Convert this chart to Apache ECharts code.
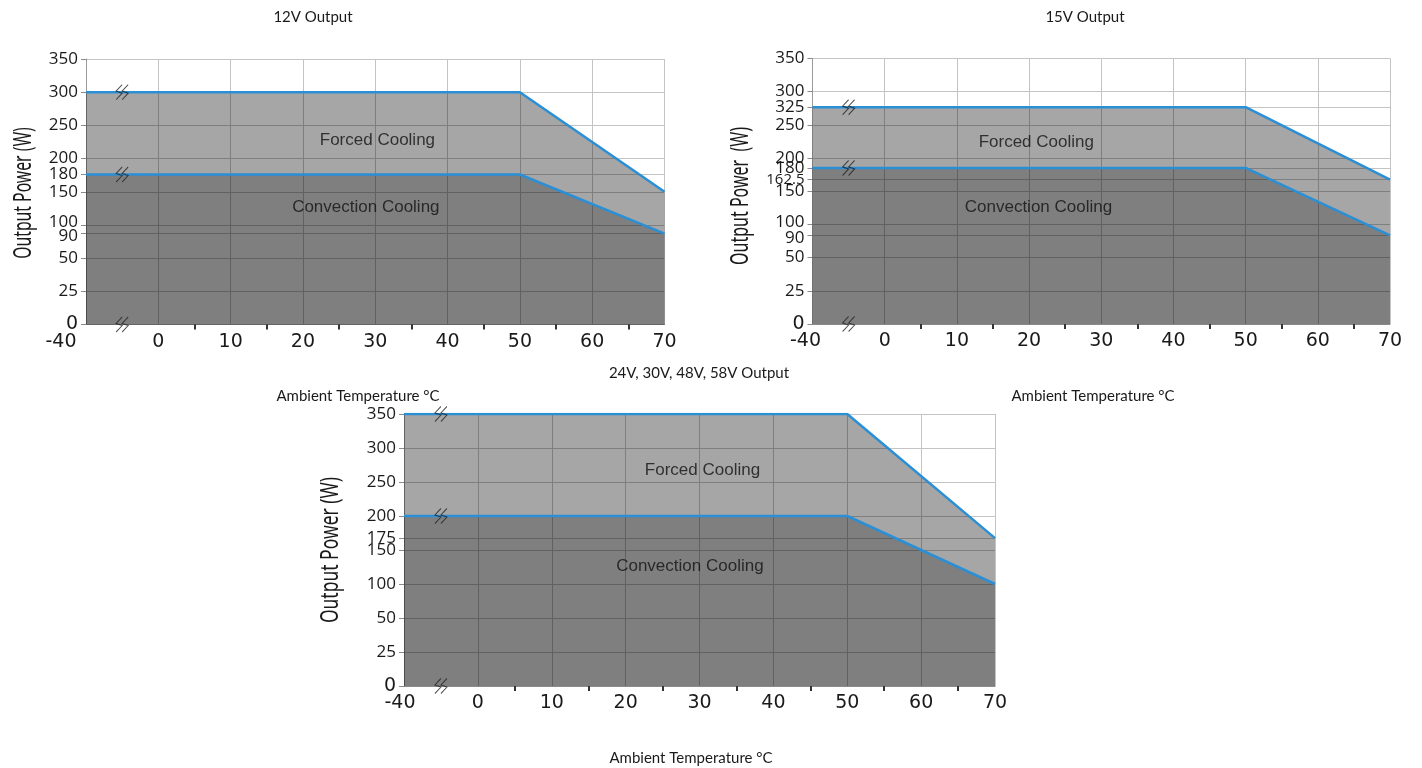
<!DOCTYPE html>
<html><head><meta charset="utf-8">
<script src="https://cdn.jsdelivr.net/npm/echarts@6/dist/echarts.min.js"></script>
<style>html,body{margin:0;padding:0;background:#fff}#c{width:1422px;height:768px}</style>
</head><body><div id="c"></div>
<script>
// ---------------- data ----------------
const temps = [-40, 50, 70];
const forced12 = [300, 300, 150];
const conv12 = [180, 180, 90];
const forced15 = [325, 325, 162.5];
const conv15 = [180, 180, 90];
const forced24 = [350, 350, 175];
const conv24 = [200, 200, 100];
const xTicks = [-40, 0, 10, 20, 30, 40, 50, 60, 70];
const xMinorTicks = [5, 15, 25, 35, 45, 55, 65];
const yTicks12 = [350, 300, 250, 200, 180, 150, 100, 90, 50, 25, 0];
const yTicks15 = [350, 300, 325, 250, 200, 180, 162.5, 150, 100, 90, 50, 25, 0];
const yTicks24 = [350, 300, 250, 200, 175, 150, 100, 50, 25, 0];
const titles = ['12V Output', '15V Output', '24V, 30V, 48V, 58V Output'];
const regionNames = ['Forced Cooling', 'Convection Cooling'];
const xName = 'Ambient Temperature °C';
const yNames = ['Output Power (W)', 'Output Power  (W)', 'Output Power (W)'];
const breakTemp = -20;

// ---------------- broken-axis scale (as drawn in the source) ----------------
const yKnots = [0, 25, 50, 100, 150, 200, 250, 300, 350]; // evenly spaced on the drawing
const yDrawnAt = [{180: 4.52, 90: 2.74}, {325: 6.53, 180: 4.70, 162.5: 4.35, 90: 2.67}, {175: 4.35}];
function ySlot(v, k) {
  if (yDrawnAt[k][v] !== undefined) return yDrawnAt[k][v];
  for (let i = 0; i < yKnots.length - 1; i++) {
    if (v >= yKnots[i] && v <= yKnots[i + 1]) return i + (v - yKnots[i]) / (yKnots[i + 1] - yKnots[i]);
  }
  return yKnots.length - 1;
}
function xSlot(t) { return t < 0 ? t / 40 : t / 10; }
function xTemp(s) { return Math.round(s < 0 ? s * 40 : s * 10); }

// ---------------- layout / style ----------------
const sets = [
  {forced: forced12, conv: conv12, yt: yTicks12},
  {forced: forced15, conv: conv15, yt: yTicks15},
  {forced: forced24, conv: conv24, yt: yTicks24}
];
const grids = [
  {left: 86, top: 59, width: 578.5, height: 265.5},
  {left: 812.5, top: 58.4, width: 577.5, height: 265.6},
  {left: 404, top: 414, width: 591, height: 272}
];
const textAt = [
  [[30.3, 228], [28.7, 127]],
  [[21, 224], [21.3, 126]],
  [[30.4, 267.5], [28.7, 126.5]]
];
const labelNudge = [{100: 'up', 90: 'dn'}, {100: 'up', 90: 'dn'}, {}];
const minusPad = [[0, 50, 0, 0], [0, 14, 10, 0], [0, 8, 4, 0]];
const titlePos = [[313, 17], [1085, 17], [699, 373]];
const xNamePos = [[358, 396], [1093, 396], [691, 758]];
const yNamePos = [[24, 193], [741, 196], [331, 550]];
const yNameSquash = [0.63, 0.64, 0.7];
const blue = '#2b8fd6';
const breakPath = 'path://M6,0 L1,6 L6,8 L1,14 M11,0 L6,6 L11,8 L6,14';
const labelFont = 'Open Sans';
const wideFont = 'DejaVu Sans';
const ink = '#1a1a1a';

const option = {
  backgroundColor: '#fff',
  animation: false,
  grid: grids.map(g => Object.assign({containLabel: false}, g)),
  xAxis: [],
  yAxis: [],
  series: [],
  graphic: []
};

sets.forEach((s, k) => {
  option.xAxis.push({
    type: 'value', gridIndex: k, min: -1, max: 7, interval: 1,
    axisLine: {show: true, onZero: false, lineStyle: {color: '#8a8a8a', width: 1}},
    axisTick: {show: false},
    splitLine: {show: true, lineStyle: {color: '#c4c4c4', width: 1}},
    axisLabel: {
      margin: 8, color: ink, fontFamily: wideFont, fontSize: 19,
      formatter: v => { const t = xTemp(v); return t === -40 ? '{m|-40}' : String(t); },
      rich: {m: {padding: minusPad[k], fontFamily: wideFont, fontSize: 19, color: ink}}
    }
  });
  const slots = s.yt.map(v => ySlot(v, k)).sort((a, b) => a - b);
  option.yAxis.push({
    type: 'value', gridIndex: k, min: 0, max: 8, interval: 1,
    axisLine: {show: true, onZero: false, lineStyle: {color: '#9a9a9a', width: 1}},
    axisTick: {show: true, length: 5, customValues: slots, lineStyle: {color: '#8a8a8a'}},
    splitLine: {show: true, lineStyle: {color: '#c4c4c4', width: 1}},
    axisLabel: {
      customValues: slots, margin: 8, color: ink, fontFamily: labelFont, fontSize: 17,
      formatter: v => {
        const lab = s.yt.find(t => Math.abs(ySlot(t, k) - v) < 1e-6);
        if (lab === undefined) return '';
        if (lab === 0) return '{z|0}';
        if (lab === 162.5) return '{s|162.5}';
        const n = labelNudge[k][lab];
        return n ? '{' + n + '|' + lab + '}' : String(lab);
      },
      rich: {
        z: {fontFamily: wideFont, fontSize: 19, color: ink},
        s: {fontFamily: labelFont, fontSize: 15, color: ink},
        up: {fontFamily: labelFont, fontSize: 17, color: ink, padding: [0, 0, 5, 0]},
        dn: {fontFamily: labelFont, fontSize: 17, color: ink, padding: [5, 0, 0, 0]}
      }
    }
  });
});
// minor x ticks (half-way marks) on extra hidden axes
sets.forEach((s, k) => {
  option.xAxis.push({
    type: 'value', gridIndex: k, min: -1, max: 7, interval: 1, position: 'bottom',
    axisLine: {show: false, onZero: false}, axisLabel: {show: false}, splitLine: {show: false},
    axisTick: {show: true, length: 5, customValues: xMinorTicks.map(xSlot), lineStyle: {color: '#333', width: 2}}
  });
});

sets.forEach((s, k) => {
  const mk = arr => temps.map((t, i) => [xSlot(t), ySlot(arr[i], k)]);
  option.series.push({
    type: 'line', xAxisIndex: k, yAxisIndex: k, data: mk(s.forced), symbol: 'none',
    lineStyle: {color: blue, width: 2.5}, areaStyle: {color: 'rgba(0,0,0,0.35)', opacity: 1, origin: 'start'}, z: 2
  });
  option.series.push({
    type: 'line', xAxisIndex: k, yAxisIndex: k, data: mk(s.conv), symbol: 'none',
    lineStyle: {color: blue, width: 2.5}, areaStyle: {color: 'rgba(0,0,0,0.23)', opacity: 1, origin: 'start'}, z: 3
  });
  option.series.push({
    type: 'scatter', xAxisIndex: k, yAxisIndex: k, symbol: breakPath, symbolSize: [12, 15],
    itemStyle: {color: 'rgba(0,0,0,0)', borderColor: '#222', borderWidth: 1},
    data: [s.forced[0], s.conv[0], 0].map(v => [xSlot(breakTemp), ySlot(v, k)]), z: 5, silent: true
  });
  option.series.push({
    type: 'scatter', xAxisIndex: k, yAxisIndex: k, symbolSize: 0, silent: true, z: 6,
    data: regionNames.map((n, i) => ({name: n, value: [xSlot(textAt[k][i][0]), ySlot(textAt[k][i][1], k)]})),
    label: {show: true, position: 'inside', formatter: p => p.name, fontFamily: 'Liberation Sans', fontSize: 17, color: '#111'}
  });
  option.graphic.push({
    type: 'text', x: titlePos[k][0], y: titlePos[k][1],
    style: {text: titles[k], fill: ink, font: '15px Lato', textAlign: 'center', textVerticalAlign: 'middle'}
  });
  option.graphic.push({
    type: 'text', x: xNamePos[k][0], y: xNamePos[k][1],
    style: {text: xName, fill: ink, font: '15px Lato', textAlign: 'center', textVerticalAlign: 'middle'}
  });
  option.graphic.push({
    type: 'text', x: yNamePos[k][0], y: yNamePos[k][1], rotation: Math.PI / 2, scaleX: yNameSquash[k],
    style: {text: yNames[k], fill: ink, font: '25px "Noto Sans"', textAlign: 'center', textVerticalAlign: 'middle'}
  });
});

const chart = echarts.init(document.getElementById('c'), null, {renderer: 'canvas'});
chart.setOption(option);
</script></body></html>
